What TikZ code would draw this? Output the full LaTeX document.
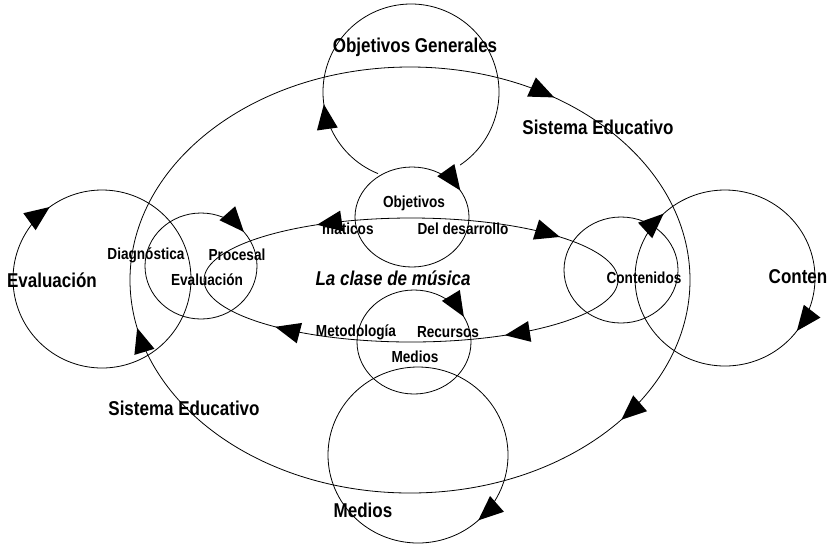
\documentclass[tikz,border=0pt]{standalone}
\usepackage{fontspec}
\setmainfont{Liberation Sans}[FakeStretch=0.85]
\usetikzlibrary{arrows.meta}
% arrowhead on an ellipse: cx, cy, a, b, tip angle, direction (1 clockwise on screen, -1 counter)
\newcommand\tipon[6]{%
  \pgfmathsetmacro\tipX{#1+#3*cos(#5)}%
  \pgfmathsetmacro\tipY{#2+#4*sin(#5)}%
  \pgfmathsetmacro\tipA{atan2(-(#6)*(#4)*cos(#5), -(#6)*(#3)*sin(#5))}%
  \fill[tipfill, shift={(\tipX,\tipY)}, rotate=\tipA] (0,0) -- (-25,10.5) -- (-25,-10.5) -- cycle;}
\tikzset{
  ring/.style={draw=black, line width=0.8pt},
  tipfill/.style={fill=black},
  biglab/.style={font=\bfseries\fontsize{20}{22}\selectfont, inner sep=0pt},
  smalllab/.style={font=\bfseries\fontsize{16}{18}\selectfont, inner sep=0pt},
  titlelab/.style={font=\bfseries\itshape\fontsize{20}{22}\selectfont, inner sep=0pt}
}
\begin{document}
\begin{tikzpicture}[x=1pt,y=-1pt]
\useasboundingbox (0,0) rectangle (832,550);
% centres
\coordinate (big) at (410,280);
\coordinate (og) at (411,92);
\coordinate (obj) at (412,217);
\coordinate (cls) at (411,280);
\coordinate (med) at (414,342);
\coordinate (medbig) at (418,455);
\coordinate (evbig) at (102,279);
\coordinate (ev) at (201,266);
\coordinate (cont) at (621,270);
\coordinate (contbig) at (725,278);
% rings
\draw[ring] (big) ellipse [x radius=280, y radius=213];
\draw[ring] (og) ++(112:88 and 88) arc [start angle=112, end angle=416, x radius=88, y radius=88];
\draw[ring] (obj) ellipse [x radius=57, y radius=50];
\draw[ring] (cls) ellipse [x radius=207, y radius=62];
\draw[ring] (med) ellipse [x radius=57, y radius=52];
\draw[ring] (medbig) ellipse [x radius=90, y radius=88];
\draw[ring] (evbig) ellipse [x radius=89, y radius=89];
\draw[ring] (ev) ellipse [x radius=56, y radius=53];
\draw[ring] (cont) ellipse [x radius=57, y radius=53];
\draw[ring] (contbig) ellipse [x radius=90, y radius=88];
% labels
\node[biglab] (tog) at (415,47) {Objetivos Generales};
\node[biglab] (tse1) at (598,127) {Sistema Educativo};
\node[biglab] (tse2) at (184,408) {Sistema Educativo};
\node[smalllab] (tobj) at (414,203) {Objetivos};
\node[smalllab, anchor=west] (ttem) at (322,229) {máticos};
\node[smalllab] (tdes) at (463,229) {Del desarrollo};
\node[titlelab] (tcls) at (393,278) {La clase de música};
\node[smalllab] (tmet) at (356,332) {Metodología};
\node[smalllab] (trec) at (448,332) {Recursos};
\node[smalllab] (tmed) at (415,357) {Medios};
\node[biglab] (tmedbig) at (363,510) {Medios};
\node[biglab] (tevbig) at (52,280) {Evaluación};
\node[smalllab] (tdia) at (146,255) {Diagnóstica};
\node[smalllab] (tpro) at (237,255) {Procesal};
\node[smalllab] (tev) at (207,280) {Evaluación};
\node[smalllab] (tcont) at (644,278) {Contenidos};
\node[biglab] (tcontbig) at (798,277) {Conten};
% arrowheads
\tipon{410}{280}{280}{213}{301}{1}
\tipon{410}{280}{280}{213}{41}{1}
\tipon{410}{280}{280}{213}{167}{1}
\tipon{411}{92}{88}{88}{172}{1}
\tipon{412}{217}{57}{50}{328}{1}
\tipon{411}{280}{207}{62}{316}{1}
\tipon{411}{280}{207}{62}{63}{1}
\tipon{411}{280}{207}{62}{131}{1}
\tipon{411}{280}{207}{62}{243}{-1}
\tipon{414}{342}{57}{52}{331}{1}
\tipon{418}{455}{90}{88}{48}{1}
\tipon{102}{279}{89}{89}{234}{1}
\tipon{201}{266}{56}{53}{320}{1}
\tipon{725}{278}{90}{88}{227}{1}
\tipon{725}{278}{90}{88}{37}{1}
\end{tikzpicture}
\end{document}
